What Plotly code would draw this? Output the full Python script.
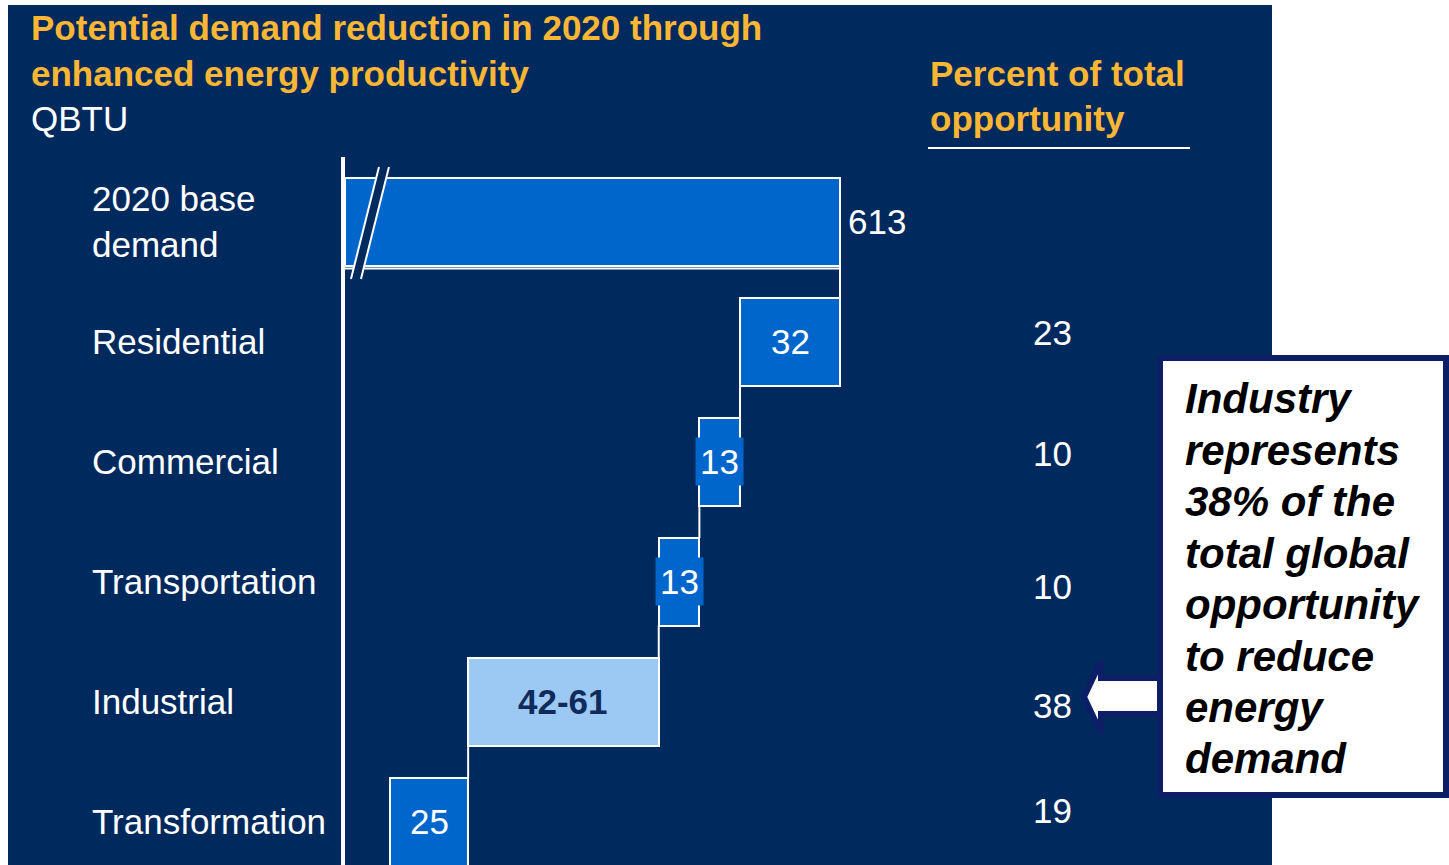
import plotly.graph_objects as go

W, H = 1449, 865

# ---- data -------------------------------------------------------------
categories = ["2020 base<br>demand", "Residential", "Commercial",
              "Transportation", "Industrial", "Transformation"]
base_demand = 613                      # QBTU
reductions = [32, 13, 13, 61, 25]      # Industrial drawn at upper bound of 42-61
reduction_labels = ["32", "13", "13", "42-61", "25"]
percent_of_total = [23, 10, 10, 38, 19]
callout_lines = ["Industry", "represents", "38% of the", "total global",
                 "opportunity", "to reduce", "energy", "demand"]

# ---- styling ----------------------------------------------------------
NAVY = "#00295E"
EDGE_NAVY = "#0C1F66"
BLUE = "#0066CC"
LIGHT = "#9CC8F4"
GOLD = "#FBB634"
LABEL_DARK = "#0F2B5B"
FONT = "Arial, 'Liberation Sans', sans-serif"

AXIS_START = 454.6          # value where the broken axis begins
PX_PER_UNIT = 3.125
X_LEFT_PX, X_RIGHT_PX = 345, 1272
Y_TOP_PX = 157
BAR_W = 0.73
PCT_NUDGE = [-9, -8, 5, 4, -11]   # vertical nudges (px) of the percent column


def px(x):
    return x / W


def py(y):
    return 1 - y / H


# ---- waterfall geometry from the data ---------------------------------
rows = list(range(len(categories)))
bases = [AXIS_START]
lengths = [base_demand - AXIS_START]
running = base_demand
cum = [base_demand]
for r in reductions:
    running -= r
    bases.append(running)
    lengths.append(r)
    cum.append(running)
colors = [BLUE, BLUE, BLUE, BLUE, LIGHT, BLUE]

fig = go.Figure()

fig.add_trace(go.Bar(
    y=rows, x=lengths, base=bases, orientation="h", width=BAR_W,
    marker=dict(color=colors, line=dict(color="white", width=2)),
    hoverinfo="skip", showlegend=False,
))

# step connectors between consecutive bars
cx, cy = [AXIS_START, base_demand], [BAR_W / 2 + 0.025, BAR_W / 2 + 0.025]
cx.append(None); cy.append(None)
for i in range(len(reductions)):
    cx += [cum[i], cum[i], None]
    cy += [i + BAR_W / 2, i + 1 - BAR_W / 2, None]
fig.add_trace(go.Scatter(x=cx, y=cy, mode="lines",
                         line=dict(color="white", width=2),
                         hoverinfo="skip", showlegend=False))

ann = []
# category labels
for r, c in zip(rows, categories):
    ann.append(dict(x=px(90), xref="paper", y=r, yref="y", text=c,
                    xanchor="left", yanchor="middle", align="left",
                    showarrow=False, font=dict(size=35, color="white", family=FONT)))

# total label
ann.append(dict(x=base_demand, y=0, xref="x", yref="y", text=str(base_demand),
                xanchor="left", xshift=6, showarrow=False,
                font=dict(size=35, color="white", family=FONT)))

# reduction labels inside bars
for i, (lab, r) in enumerate(zip(reduction_labels, reductions)):
    row = i + 1
    is_light = colors[row] == LIGHT
    ann.append(dict(
        x=bases[row] + r / 2, y=row, xref="x", yref="y",
        text=f"<b>{lab}</b>" if is_light else lab,
        showarrow=False, bgcolor=colors[row], borderpad=4,
        font=dict(size=35, color=LABEL_DARK if is_light else "white", family=FONT)))

# percent column
for i, p in enumerate(percent_of_total):
    ann.append(dict(x=px(1052), xref="paper", y=i + 1, yref="y", text=str(p),
                    xanchor="center", yshift=-PCT_NUDGE[i], showarrow=False,
                    font=dict(size=35, color="white", family=FONT)))

# headings
for txt, y, color, bold, x in [
    ("Potential demand reduction in 2020 through", 28, GOLD, True, 29),
    ("enhanced energy productivity", 73, GOLD, True, 29),
    ("QBTU", 118, "white", False, 29),
    ("Percent of total", 73, GOLD, True, 928),
    ("opportunity", 118, GOLD, True, 928),
]:
    ann.append(dict(x=px(x), y=py(y), xref="paper", yref="paper",
                    text=f"<b>{txt}</b>" if bold else txt,
                    xanchor="left", yanchor="middle", showarrow=False,
                    font=dict(size=35, color=color, family=FONT)))

# callout text
for k, line in enumerate(callout_lines):
    ann.append(dict(x=px(1183), y=py(399 + k * 51.4), xref="paper", yref="paper",
                    text=f"<b><i>{line}</i></b>", xanchor="left", yanchor="middle",
                    showarrow=False, font=dict(size=42, color="black", family=FONT)))


def path(points):
    return "M " + " L ".join(f"{px(a)},{py(b)}" for a, b in points) + " Z"


shapes = [
    # dark panel
    dict(type="rect", xref="paper", yref="paper", x0=px(8), x1=px(X_RIGHT_PX),
         y0=0, y1=py(5), fillcolor=NAVY, line=dict(width=0), layer="below"),
    # axis break marks
    dict(type="path", xref="paper", yref="paper",
         path=path([(379, 167), (389, 167), (361, 279), (351, 279)]),
         fillcolor=NAVY, line=dict(width=0)),
    dict(type="line", xref="paper", yref="paper", x0=px(379), y0=py(167),
         x1=px(351), y1=py(279), line=dict(color="white", width=2)),
    dict(type="line", xref="paper", yref="paper", x0=px(389), y0=py(167),
         x1=px(361), y1=py(279), line=dict(color="white", width=2)),
    # heading underline
    dict(type="line", xref="paper", yref="paper", x0=px(928), y0=py(148),
         x1=px(1190), y1=py(148), line=dict(color="white", width=2)),
    # callout arrow
    dict(type="path", xref="paper", yref="paper",
         path=path([(1084, 697), (1101, 661), (1101, 678), (1170, 678),
                    (1170, 714), (1101, 714), (1101, 733)]),
         fillcolor="white", line=dict(color=EDGE_NAVY, width=6)),
    # callout box
    dict(type="rect", xref="paper", yref="paper", x0=px(1160), x1=px(1446),
         y0=py(795), y1=py(358), fillcolor="white",
         line=dict(color=EDGE_NAVY, width=6)),
]

x_span = (X_RIGHT_PX - X_LEFT_PX) / PX_PER_UNIT
fig.update_layout(
    width=W, height=H,
    margin=dict(l=0, r=0, t=0, b=0),
    paper_bgcolor="white", plot_bgcolor="rgba(0,0,0,0)",
    xaxis=dict(domain=[px(X_LEFT_PX), px(X_RIGHT_PX)],
               range=[AXIS_START, AXIS_START + x_span],
               showgrid=False, zeroline=False, showticklabels=False,
               showline=False, fixedrange=True),
    yaxis=dict(domain=[0, py(Y_TOP_PX)], range=[5.36, -0.54],
               showgrid=False, zeroline=False, showticklabels=False,
               showline=True, linecolor="white", linewidth=4, fixedrange=True),
    annotations=ann, shapes=shapes, bargap=0, showlegend=False,
)

fig.write_html("out.html")
